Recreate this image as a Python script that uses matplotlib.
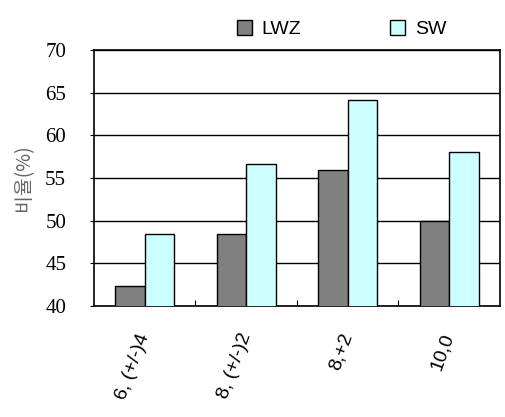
import matplotlib.pyplot as plt
import numpy as np

# Data
categories = ['6, (+/-)4', '8, (+/-)2', '8,+2', '10,0']
lwz = [42.3, 48.4, 56.0, 50.0]
sw = [48.4, 56.6, 64.2, 58.1]

fig = plt.figure(figsize=(5.05, 4.17), dpi=100)
ax = fig.add_axes([0.186, 0.266, 0.804, 0.614])

x = np.arange(len(categories))
w = 0.29
ax.bar(x - w / 2, lwz, w, color='#808080', edgecolor='black', linewidth=1, label='LWZ', zorder=3)
ax.bar(x + w / 2, sw, w, color='#CCFFFF', edgecolor='black', linewidth=1, label='SW', zorder=3)

ax.set_ylim(40, 70)
ax.set_xlim(-0.5, len(categories) - 0.5)
ax.set_yticks(range(40, 71, 5))
ax.yaxis.grid(True, color='black', linewidth=1)
for s in ax.spines.values():
    s.set_linewidth(1.2)

# y tick labels in serif
for lbl in ax.get_yticklabels():
    lbl.set_fontfamily('Liberation Serif')
    lbl.set_fontsize(15)
ax.tick_params(axis='y', length=3, direction='out', pad=17)

# x ticks at category boundaries, labels at centers
ax.set_xticks(np.arange(0.5, len(categories) - 1, 1))
ax.set_xticklabels([])
ax.tick_params(axis='x', direction='in', length=4)
ax.set_xticks(x, minor=True)
ax.set_xticklabels(categories, minor=True, rotation=70, ha='right', va='center',
                   rotation_mode='anchor', fontfamily='Liberation Sans', fontsize=14)
ax.tick_params(axis='x', which='minor', length=0, pad=20)

ax.set_ylabel('비율(%)', fontfamily=['Noto Sans CJK KR', 'DejaVu Sans'], fontsize=14,
              color='#666666', labelpad=8)

ax.legend(loc='lower center', bbox_to_anchor=(0.61, 1.0), ncol=2, frameon=False,
          prop={'family': 'Liberation Sans', 'size': 14}, handlelength=0.75, handleheight=0.75,
          columnspacing=4.6, handletextpad=0.5, borderaxespad=0.2)

fig.savefig('out.png', dpi=100)
